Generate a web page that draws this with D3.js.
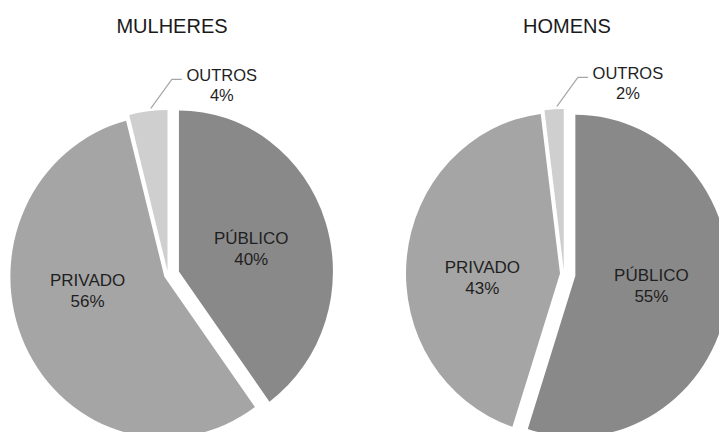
<!DOCTYPE html>
<html>
<head>
<meta charset="utf-8">
<script src="https://cdn.jsdelivr.net/npm/d3@7"></script>
<style>
  html, body { margin: 0; padding: 0; background: #fff; }
  svg { display: block; font-family: "Liberation Sans", Arial, sans-serif; }
</style>
</head>
<body>
<svg id="chart" width="719" height="432"></svg>
<script>
// data
var categories = ['PÚBLICO', 'PRIVADO', 'OUTROS'];
var groups = ['MULHERES', 'HOMENS'];
var mulheres = [40, 56, 4];
var homens = [55, 43, 2];

// layout
var W = 719, H = 432;
var rx = 154, ry = 161;
var centers = { MULHERES: [168, 275], HOMENS: [564, 274] };
var titleX = { MULHERES: 172, HOMENS: 567 };
var explode = { 'PÚBLICO': 11.5, 'PRIVADO': 4, 'OUTROS': 4 };
var labelDist = 76;
// small nudges [dx, dy] for the inside labels
var labelNudge = { MULHERES: { 'PRIVADO': [-8, -19] }, HOMENS: { 'PRIVADO': [-2, 11], 'PÚBLICO': [1, -3] } };

var color = d3.scaleOrdinal()
  .domain(categories)
  .range(['#898989', '#a5a5a5', '#cfcfcf']);

var svg = d3.select('#chart');

var pie = d3.pie().sort(null).value(d => d.value);
var arc = d3.arc().innerRadius(0).outerRadius(rx);

function unit (a) { return [Math.sin(a), -Math.cos(a)]; }

function drawPie (name, values) {
  var c = centers[name];
  var data = pie(categories.map((k, i) => ({ key: k, value: values[i] })));
  var g = svg.append('g');

  g.append('text')
    .attr('x', titleX[name])
    .attr('y', 33)
    .attr('text-anchor', 'middle')
    .attr('font-size', 20)
    .attr('fill', '#1a1a1a')
    .text(name);

  data.forEach(d => {
    var mid = (d.startAngle + d.endAngle) / 2;
    var u = unit(mid);
    var e = explode[d.data.key];
    var ox = c[0] + u[0] * e, oy = c[1] + u[1] * e;

    g.append('path')
      .attr('d', arc(d))
      .attr('fill', color(d.data.key))
      .attr('transform', 'translate(' + ox + ',' + oy + ') scale(1,' + (ry / rx) + ')');

    var pct = d.data.value + '%';

    if (d.data.key === 'OUTROS') {
      // outside label with leader line
      var sx = ox + u[0] * (rx + 3), sy = oy + u[1] * (ry + 3);
      var ex = sx + 24, ey = sy - 29;
      g.append('polyline')
        .attr('points', [[sx + 3, sy], [ex, ey], [ex + 10, ey]].map(p => p.join(',')).join(' '))
        .attr('fill', 'none')
        .attr('stroke', '#a6a6a6')
        .attr('stroke-width', 1.2);
      var t = g.append('text')
        .attr('text-anchor', 'middle')
        .attr('font-size', 16.5)
        .attr('fill', '#1f1f1f');
      t.append('tspan').attr('x', ex + 50).attr('y', ey + 2).text(d.data.key);
      t.append('tspan').attr('x', ex + 50).attr('y', ey + 22).text(pct);
    } else {
      var n = (labelNudge[name][d.data.key] || [0, 0]);
      var px = ox + u[0] * labelDist + n[0], py = oy + u[1] * labelDist + n[1];
      var t2 = g.append('text')
        .attr('text-anchor', 'middle')
        .attr('font-size', 17)
        .attr('fill', '#1f1f1f');
      t2.append('tspan').attr('x', px).attr('y', py - 4).text(d.data.key);
      t2.append('tspan').attr('x', px).attr('y', py + 17).text(pct);
    }
  });
}

drawPie('MULHERES', mulheres);
drawPie('HOMENS', homens);
</script>
</body>
</html>
